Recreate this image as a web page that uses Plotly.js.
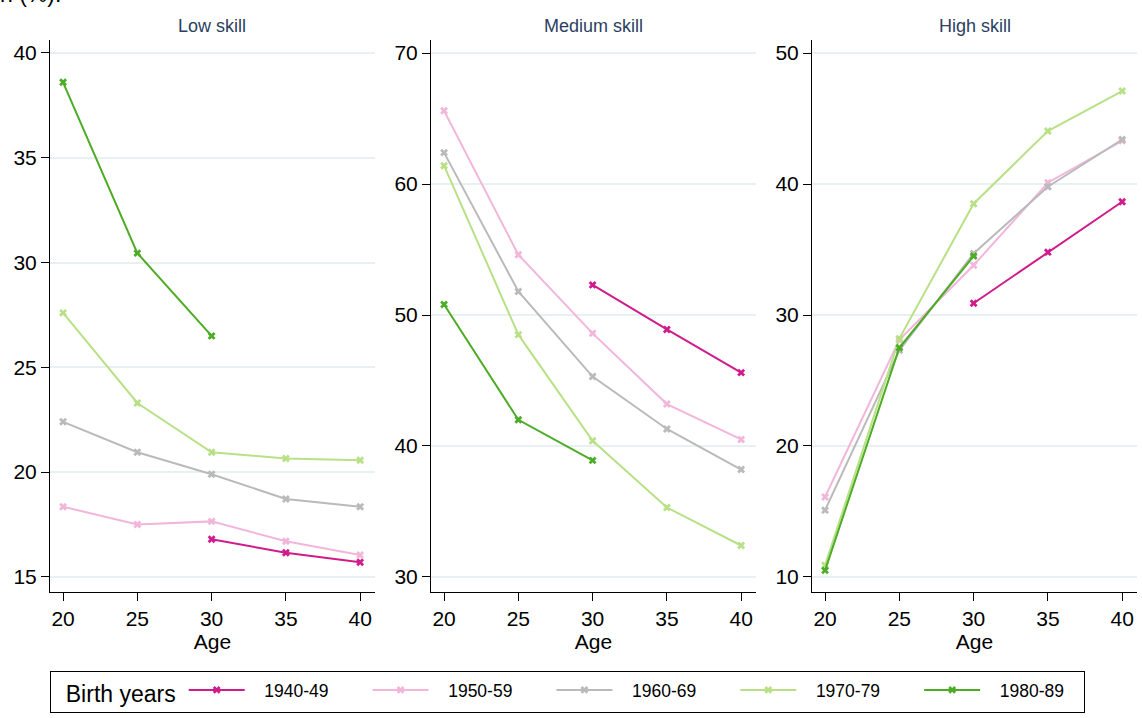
<!DOCTYPE html>
<html>
<head>
<meta charset="utf-8">
<script src="https://cdn.plot.ly/plotly-3.0.1.min.js"></script>
<style>html,body{margin:0;padding:0;background:#fff;}#chart{width:1142px;height:718px;}</style>
</head>
<body>
<div id="chart"></div>
<script>
// ---- data ----
var ages = [20, 25, 30, 35, 40];
var cohorts = ["1940-49", "1950-59", "1960-69", "1970-79", "1980-89"];
var cohortColors = ["#d01c8b", "#f1b6da", "#bababa", "#b8e186", "#4dac26"];
var panelTitles = ["Low skill", "Medium skill", "High skill"];

// Low skill
var low_1940 = [null, null, 16.8, 16.15, 15.7];
var low_1950 = [18.35, 17.5, 17.65, 16.7, 16.05];
var low_1960 = [22.4, 20.95, 19.9, 18.72, 18.35];
var low_1970 = [27.6, 23.3, 20.95, 20.65, 20.57];
var low_1980 = [38.6, 30.45, 26.5, null, null];

// Medium skill
var med_1940 = [null, null, 52.3, 48.9, 45.6];
var med_1950 = [65.6, 54.6, 48.6, 43.2, 40.5];
var med_1960 = [62.4, 51.8, 45.3, 41.3, 38.2];
var med_1970 = [61.4, 48.5, 40.4, 35.3, 32.4];
var med_1980 = [50.8, 42.0, 38.9, null, null];

// High skill
var high_1940 = [null, null, 30.9, 34.8, 38.65];
var high_1950 = [16.1, 28.1, 33.8, 40.1, 43.3];
var high_1960 = [15.1, 27.3, 34.7, 39.8, 43.4];
var high_1970 = [10.9, 28.2, 38.5, 44.05, 47.1];
var high_1980 = [10.5, 27.5, 34.5, null, null];

var yTicks = [[15, 20, 25, 30, 35, 40], [30, 40, 50, 60, 70], [10, 20, 30, 40, 50]];
var xTicks = [20, 25, 30, 35, 40];

var panels = [
  [low_1940, low_1950, low_1960, low_1970, low_1980],
  [med_1940, med_1950, med_1960, med_1970, med_1980],
  [high_1940, high_1950, high_1960, high_1970, high_1980]
];

// ---- layout geometry ----
var W = 1142, H = 718;
var xDomains = [[50 / W, 375 / W], [431 / W, 756 / W], [812 / W, 1137 / W]];
var yDomain = [1 - 592 / H, 1 - 40 / H];
var yRanges = [[14.28, 40.62], [28.85, 71.0], [8.85, 51.0]];
var xRange = [19.12, 41.0];

var FONT = "Arial, 'Liberation Sans', sans-serif";
var NB = "\u00a0";
function pad(n) { var s = ""; for (var k = 0; k < n; k++) s += NB; return s; }

var traces = [];
panels.forEach(function (series, p) {
  series.forEach(function (vals, i) {
    // legend label spacing (gap after the symbol, gap before next entry)
    var label = pad(3) + cohorts[i] + (i < cohorts.length - 1 ? pad(7) : pad(3));
    traces.push({
      type: "scatter",
      mode: "lines+markers",
      x: ages,
      y: vals,
      name: label,
      legendgroup: cohorts[i],
      showlegend: p === 0,
      connectgaps: false,
      xaxis: p === 0 ? "x" : "x" + (p + 1),
      yaxis: p === 0 ? "y" : "y" + (p + 1),
      line: {color: cohortColors[i], width: 2},
      marker: {symbol: "x", size: 7, color: cohortColors[i]},
      hovertemplate: cohorts[i] + ": %{y}<extra></extra>"
    });
  });
});

var layout = {
  width: W,
  height: H,
  margin: {l: 0, r: 0, t: 0, b: 0},
  paper_bgcolor: "#ffffff",
  plot_bgcolor: "#ffffff",
  font: {family: FONT, color: "#000000", size: 21},
  showlegend: true,
  legend: {
    orientation: "h",
    x: 50 / W,
    y: 1 - 671 / H,
    xanchor: "left",
    yanchor: "top",
    bordercolor: "#000000",
    borderwidth: 1,
    bgcolor: "#ffffff",
    font: {family: FONT, size: 17.5, color: "#000000"},
    title: {text: pad(2) + "Birth years", font: {family: FONT, size: 23, color: "#000000"}},
    itemwidth: 56,
    traceorder: "normal"
  },
  annotations: []
};

for (var p = 0; p < 3; p++) {
  var xs = p === 0 ? "xaxis" : "xaxis" + (p + 1);
  var ys = p === 0 ? "yaxis" : "yaxis" + (p + 1);
  layout[xs] = {
    domain: xDomains[p],
    anchor: p === 0 ? "y" : "y" + (p + 1),
    range: xRange,
    tickmode: "array",
    tickvals: xTicks,
    ticktext: xTicks.map(String),
    ticks: "outside",
    ticklen: 8,
    tickwidth: 1,
    tickcolor: "#000000",
    showline: true,
    linecolor: "#000000",
    linewidth: 1,
    showgrid: false,
    zeroline: false,
    tickfont: {family: FONT, size: 21, color: "#000000"},
    title: {text: "Age", font: {family: FONT, size: 21, color: "#000000"}, standoff: 0}
  };
  layout[ys] = {
    domain: yDomain,
    anchor: p === 0 ? "x" : "x" + (p + 1),
    range: yRanges[p],
    tickmode: "array",
    tickvals: yTicks[p],
    ticktext: yTicks[p].map(String),
    ticks: "outside",
    ticklen: 8,
    tickwidth: 1,
    tickcolor: "#000000",
    showline: true,
    linecolor: "#000000",
    linewidth: 1,
    showgrid: true,
    gridcolor: "#e9f0f2",
    gridwidth: 2,
    zeroline: false,
    tickfont: {family: FONT, size: 21, color: "#000000"}
  };
  layout.annotations.push({
    text: panelTitles[p],
    xref: "paper",
    yref: "paper",
    x: (xDomains[p][0] + xDomains[p][1]) / 2,
    y: 1 - 26 / H,
    xanchor: "center",
    yanchor: "middle",
    showarrow: false,
    font: {family: FONT, size: 18, color: "#2a3f5f"}
  });
}

// partially visible caption at top edge
layout.annotations.push({
  text: "n (%).",
  xref: "paper",
  yref: "paper",
  x: -2 / W,
  y: 1 + 6 / H,
  xanchor: "left",
  yanchor: "middle",
  showarrow: false,
  font: {family: FONT, size: 23, color: "#000000"}
});

Plotly.newPlot("chart", traces, layout, {displayModeBar: false, staticPlot: true});
</script>
</body>
</html>
